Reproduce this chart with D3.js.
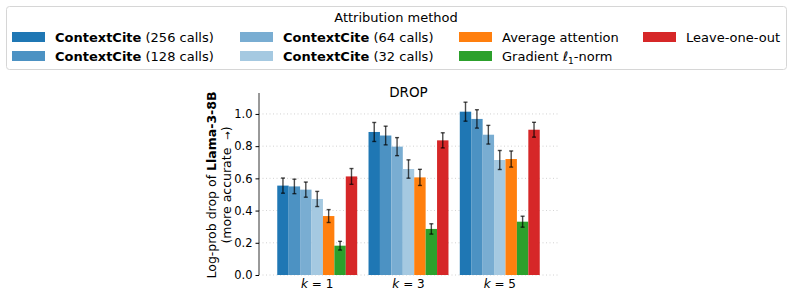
<!DOCTYPE html>
<html>
<head>
<meta charset="utf-8">
<script src="https://cdn.jsdelivr.net/npm/d3@7"></script>
<style>
  body { margin: 0; background: #fff; }
  svg { font-family: "DejaVu Sans", sans-serif; }
</style>
</head>
<body>
<div id="chart"></div>
<script>
(function() {
  var W = 793, H = 296;

  var groups = ["k = 1", "k = 3", "k = 5"];
  var methods = ["cc256", "cc128", "cc64", "cc32", "attn", "grad", "loo"];
  var colors = ["#1f77b4", "#4c92c3", "#79add2", "#a5c9e1", "#ff7f0e", "#2ca02c", "#d62728"];

  // values per method, one entry per k
  var cc256 = [0.555, 0.888, 1.014];
  var cc128 = [0.550, 0.866, 0.969];
  var cc64  = [0.530, 0.797, 0.871];
  var cc32  = [0.472, 0.658, 0.714];
  var attn  = [0.366, 0.606, 0.720];
  var grad  = [0.182, 0.286, 0.331];
  var loo   = [0.612, 0.836, 0.902];

  // half-widths of the error bars
  var cc256Err = [0.047, 0.059, 0.059];
  var cc128Err = [0.045, 0.058, 0.057];
  var cc64Err  = [0.047, 0.056, 0.058];
  var cc32Err  = [0.047, 0.057, 0.059];
  var attnErr  = [0.040, 0.050, 0.050];
  var gradErr  = [0.027, 0.032, 0.034];
  var looErr   = [0.049, 0.047, 0.046];

  var yTicks = [0, 0.2, 0.4, 0.6, 0.8, 1.0];

  var series = [cc256, cc128, cc64, cc32, attn, grad, loo];
  var errs = [cc256Err, cc128Err, cc64Err, cc32Err, attnErr, gradErr, looErr];

  var data = [];
  groups.forEach(function(g, gi) {
    methods.forEach(function(m, mi) {
      data.push({ group: g, method: m, value: series[mi][gi], err: errs[mi][gi], color: colors[mi] });
    });
  });

  var svg = d3.select("#chart").append("svg")
    .attr("width", W).attr("height", H);

  var margin = { left: 259, right: 235, top: 93, bottom: 21 };

  var x = d3.scaleBand().domain(groups)
    .range([margin.left, W - margin.right])
    .paddingInner(0.124).paddingOuter(0.2);
  var xInner = d3.scaleBand().domain(methods).range([0, x.bandwidth()]);
  var y = d3.scaleLinear().domain([0, 1.13]).range([H - margin.bottom, margin.top]);

  // grid
  svg.append("g").selectAll("line").data(yTicks).enter().append("line")
    .attr("x1", margin.left).attr("x2", W - margin.right)
    .attr("y1", function(d) { return y(d); }).attr("y2", function(d) { return y(d); })
    .attr("stroke", "#b0b0b0").attr("stroke-width", 0.8)
    .attr("stroke-dasharray", "1,2.5").attr("opacity", 0.7);

  // bars
  svg.append("g").selectAll("rect").data(data).enter().append("rect")
    .attr("x", function(d) { return x(d.group) + xInner(d.method); })
    .attr("width", xInner.bandwidth())
    .attr("y", function(d) { return y(d.value); })
    .attr("height", function(d) { return y(0) - y(d.value); })
    .attr("fill", function(d) { return d.color; });

  // error bars
  var eb = svg.append("g").attr("stroke", "#000").attr("stroke-opacity", 0.7).attr("stroke-width", 1.4);
  data.forEach(function(d) {
    var cx = x(d.group) + xInner(d.method) + xInner.bandwidth() / 2;
    eb.append("line").attr("x1", cx).attr("x2", cx)
      .attr("y1", y(d.value - d.err)).attr("y2", y(d.value + d.err));
    [d.value - d.err, d.value + d.err].forEach(function(v) {
      eb.append("line").attr("x1", cx - 2).attr("x2", cx + 2)
        .attr("y1", y(v)).attr("y2", y(v));
    });
  });

  // y axis
  var yAxis = d3.axisLeft(y).tickValues(yTicks).tickFormat(d3.format(".1f")).tickSize(3.5).tickPadding(3);
  var ya = svg.append("g").attr("transform", "translate(" + margin.left + ",0)").call(yAxis);
  ya.select(".domain").attr("d", "M0," + y(1.13) + "V" + y(0)).attr("stroke", "#000").attr("stroke-width", 0.8);
  ya.selectAll("text").attr("font-size", 11.5).attr("fill", "#000").attr("font-family", "DejaVu Sans");

  // x tick labels
  svg.append("g").selectAll("text").data(groups).enter().append("text")
    .attr("x", function(d) { return x(d) + x.bandwidth() / 2; })
    .attr("y", 288)
    .attr("text-anchor", "middle").attr("font-size", 12)
    .each(function(d) {
      var t = d3.select(this);
      t.append("tspan").attr("font-style", "italic").text("k");
      t.append("tspan").text(d.slice(1));
    });

  // title
  svg.append("text").attr("x", (margin.left + W - margin.right) / 2).attr("y", 97)
    .attr("text-anchor", "middle").attr("font-size", 13.5).text("DROP");

  // y label
  var yl = svg.append("text").attr("transform", "translate(216,185) rotate(-90)")
    .attr("text-anchor", "middle").attr("font-size", 12.5);
  yl.append("tspan").text("Log-prob drop of ");
  yl.append("tspan").attr("font-weight", "bold").text("Llama-3-8B");
  var yl2 = svg.append("text").attr("transform", "translate(231,185) rotate(-90)")
    .attr("text-anchor", "middle").attr("font-size", 12.5);
  yl2.append("tspan").text("(more accurate\u00a0\u00a0");
  yl2.append("tspan").attr("font-size", 10).text("\u2192");
  yl2.append("tspan").text(")");

  // legend
  var legendLabels = [
    { bold: "ContextCite", rest: " (256 calls)" },
    { bold: "ContextCite", rest: " (128 calls)" },
    { bold: "ContextCite", rest: " (64 calls)" },
    { bold: "ContextCite", rest: " (32 calls)" },
    { rest: "Average attention" },
    { rest: "Gradient ", ell: true },
    { rest: "Leave-one-out" }
  ];
  var colX = [12, 240, 459, 643];
  var rowY = [37, 56];

  svg.append("rect").attr("x", 6.5).attr("y", 6.5).attr("width", 780).attr("height", 63)
    .attr("rx", 3).attr("fill", "#fff").attr("stroke", "#d6d6d6").attr("stroke-width", 1);
  svg.append("text").attr("x", 396).attr("y", 22).attr("text-anchor", "middle")
    .attr("font-size", 13).text("Attribution method");

  legendLabels.forEach(function(l, i) {
    var col = Math.floor(i / 2), row = i % 2;
    var lx = colX[col], ly = rowY[row];
    svg.append("rect").attr("x", lx).attr("y", ly - 5).attr("width", 33).attr("height", 10)
      .attr("fill", colors[i]);
    var t = svg.append("text").attr("x", lx + 43).attr("y", ly + 4.5).attr("font-size", 13);
    if (l.bold) t.append("tspan").attr("font-weight", "bold").text(l.bold);
    t.append("tspan").text(l.rest);
    if (l.ell) {
      t.append("tspan").attr("font-style", "italic").text("\u2113");
      t.append("tspan").attr("font-size", 9).attr("dy", 3).text("1");
      t.append("tspan").attr("dy", -3).text("-norm");
    }
  });
})();
</script>
</body>
</html>
